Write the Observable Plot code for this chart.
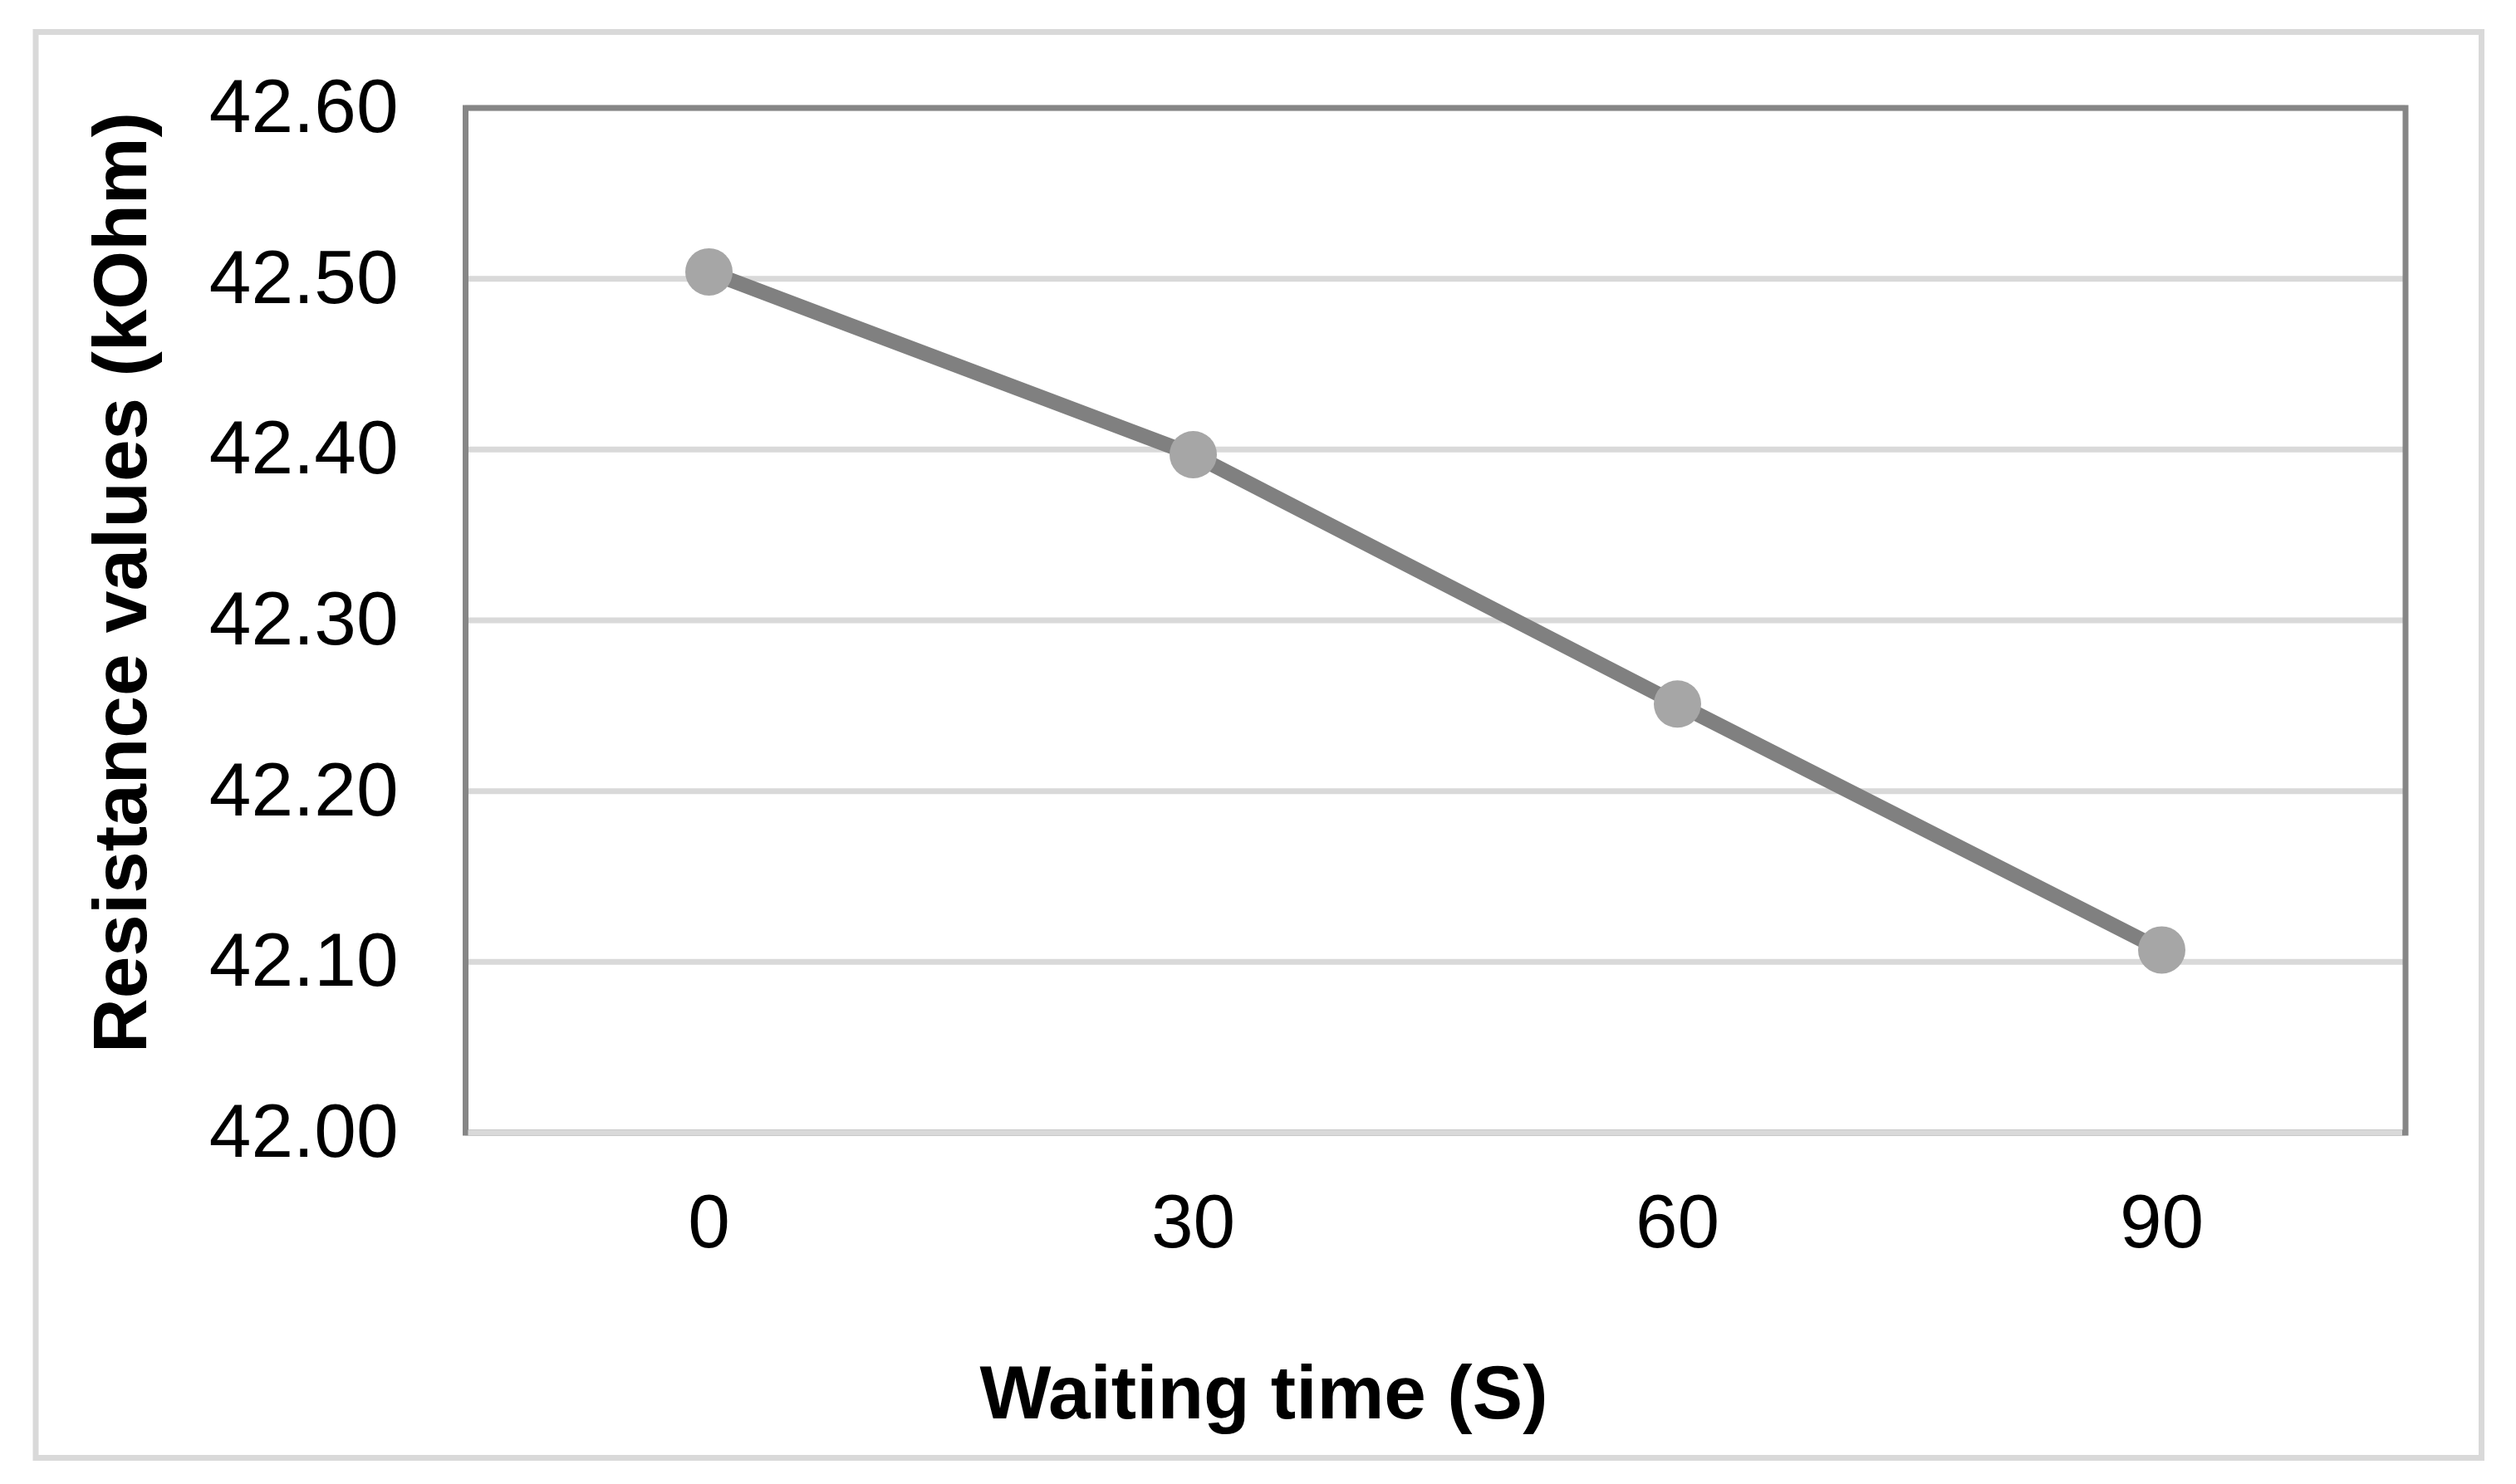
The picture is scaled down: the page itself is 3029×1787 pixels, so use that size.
<!DOCTYPE html>
<html>
<head>
<meta charset="utf-8">
<script src="https://cdn.jsdelivr.net/npm/d3@7"></script>
<script src="https://cdn.jsdelivr.net/npm/@observablehq/plot@0.6"></script>
<style>
  html, body { margin: 0; padding: 0; background: #ffffff; overflow: hidden; }
  #chart svg { display: block; }
</style>
</head>
<body>
<div id="chart"></div>
<script>
// ---- data ----
const waitingTimes = [0, 30, 60, 90];
const resistanceValues = [42.504, 42.397, 42.251, 42.107];
const yTickValues = [42.0, 42.1, 42.2, 42.3, 42.4, 42.5, 42.6];
const xTitle = "Waiting time (S)";
const yTitle = "Resistance values (kOhm)";

const data = waitingTimes.map((t, i) => ({time: t, value: resistanceValues[i]}));

const W = 3029, H = 1787;
const mL = 560, mR = 133.5, mT = 129.5, mB = 423.5;
const fs = 91;

const chart = Plot.plot({
  width: W,
  height: H,
  marginLeft: mL,
  marginRight: mR,
  marginTop: mT,
  marginBottom: mB,
  style: {fontFamily: "'Liberation Sans', Arial, sans-serif", fontSize: fs + "px", color: "#000", background: "#fff"},
  x: {type: "point", domain: waitingTimes, padding: 0.5},
  y: {domain: [42.0, 42.6]},
  marks: [
    Plot.ruleY(yTickValues, {stroke: "#d9d9d9", strokeWidth: 7}),
    Plot.frame({stroke: "#868686", strokeWidth: 7}),
    Plot.ruleY([42.0], {stroke: "#d9d9d9", strokeWidth: 7, insetLeft: 3.5, insetRight: 3.5}),
    Plot.axisY({ticks: yTickValues, tickFormat: d3.format(".2f"), tickSize: 0, tickPadding: 81, label: null, fontSize: fs}),
    Plot.axisX({ticks: waitingTimes, tickFormat: d => String(d), tickSize: 0, tickPadding: 73.4, label: null, fontSize: fs}),
    Plot.line(data, {x: "time", y: "value", stroke: "#808080", strokeWidth: 18}),
    Plot.dot(data, {x: "time", y: "value", r: 28.5, fill: "#a6a6a6", stroke: "none"}),
    Plot.text([xTitle], {text: d => d, frameAnchor: "bottom", lineAnchor: "bottom", textAnchor: "middle",
      dx: 1521 - (mL + (W - mR)) / 2, dy: 1707.5 - (H - mB), fontWeight: "bold", fontSize: fs, fill: "#000"}),
    Plot.text([yTitle], {text: d => d, frameAnchor: "left", lineAnchor: "bottom", textAnchor: "middle", rotate: -90,
      dx: 175 - mL, dy: 701 - (mT + (H - mB)) / 2, fontWeight: "bold", fontSize: fs, fill: "#000"})
  ]
});

// outer chart-area border
d3.select(chart).insert("rect", ":first-child")
  .attr("x", 43).attr("y", 38.5).attr("width", 2944.5).attr("height", 1717)
  .attr("fill", "none").attr("stroke", "#d9d9d9").attr("stroke-width", 7);

document.getElementById("chart").appendChild(chart);
</script>
</body>
</html>
